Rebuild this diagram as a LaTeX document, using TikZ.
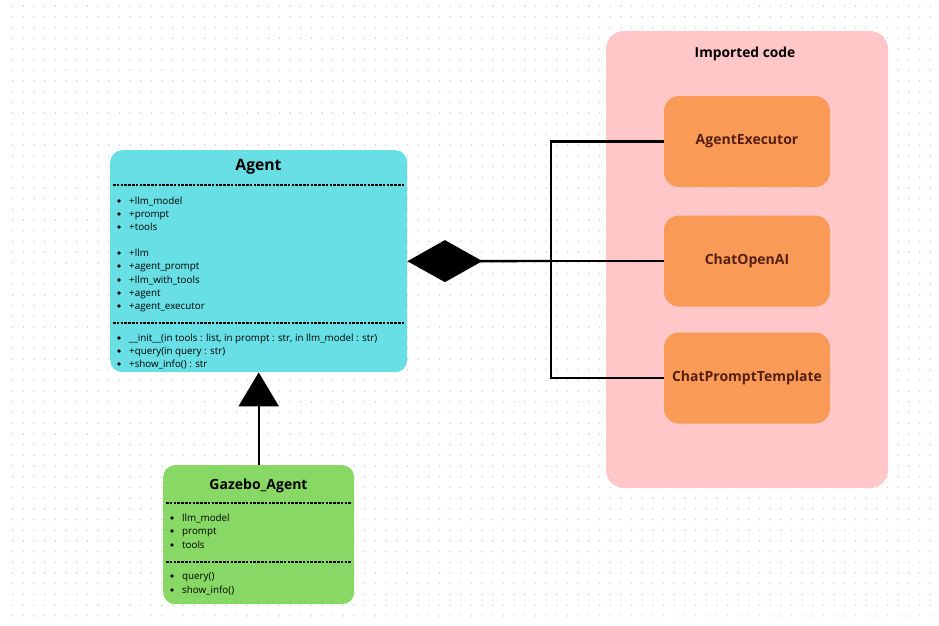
\documentclass[tikz,border=0pt]{standalone}
\usepackage{fontspec}
\setmainfont{Open Sans}
\usetikzlibrary{arrows.meta}
\definecolor{agentcyan}{HTML}{67DFE5}
\definecolor{gazebogreen}{HTML}{88D865}
\definecolor{importpink}{HTML}{FFC0C0}
\definecolor{liborange}{HTML}{F99A57}
\definecolor{libtext}{HTML}{561F14}
\definecolor{griddot}{HTML}{D6D6E4}
\begin{document}
\begin{tikzpicture}[x=1pt, y=-1pt,
    classbox/.style={fill=#1, rounded corners=12pt, inner sep=0pt, anchor=north west},
    libbox/.style={fill=liborange, rounded corners=15pt, minimum width=166pt, minimum height=91pt,
        text=libtext, font=\bfseries\fontsize{14}{16}\selectfont},
    classtitle/.style={font=\bfseries\fontsize{#1}{18}\selectfont},
    item/.style={anchor=west, inner sep=0pt, text height=7pt, text depth=2.4pt, yshift=-1.5pt,
        font=\fontsize{9.8}{11}\selectfont},
    sepline/.style={line width=1.2pt, dash pattern=on 2.6pt off 1.2pt},
    link/.style={line width=2.4pt}]
\useasboundingbox (0,0) rectangle (939,626);
\fill[white] (0,0) rectangle (939,626);
% dot grid
\foreach \i in {0,...,87}
    \foreach \j in {0,...,58}
        \fill[griddot] (12.7+10.67*\i, 6+10.7*\j) circle (0.9);

% Imported code
\fill[importpink, fill opacity=0.88, rounded corners=18pt] (606,31) rectangle (888,488);
\node[classtitle=13.8] (imported) at (745,53.5) {Imported code};
\node[libbox] (executor) at (747,141.5) {AgentExecutor};
\node[libbox] (openai) at (747,261) {ChatOpenAI};
\node[libbox] (template) at (747,378) {ChatPromptTemplate};

% Agent class
\node[classbox=agentcyan, minimum width=297pt, minimum height=222pt] (agent) at (110,150) {};
\node[classtitle=15.7] (agenttitle) at (258.5,167) {Agent};
\draw[sepline] (113,185) -- (404,185);
\foreach \y/\t in {201/+llm\_model, 214/+prompt, 227/+tools, 253/+llm, 266/+agent\_prompt,
        280/+llm\_with\_tools, 293/+agent, 306/+agent\_executor}
    {\fill (119,\y) circle (1.8);
     \node[item] at (129,\y) {\t};}
\draw[sepline] (113,323) -- (404,323);
\foreach \y/\t in {338/{\_\_init\_\_(in tools : list, in prompt : str, in llm\_model : str)},
        351/{+query(in query : str)}, 364/{+show\_info() : str}}
    {\fill (119,\y) circle (1.8);
     \node[item] at (129,\y) {\t};}

% Gazebo_Agent class
\node[classbox=gazebogreen, minimum width=191pt, minimum height=139pt] (gazebo) at (163,465) {};
\node[classtitle=14] (gazebotitle) at (258.5,486) {Gazebo\_Agent};
\draw[sepline] (166,503) -- (351,503);
\foreach \y/\t in {518/llm\_model, 531/prompt, 545/tools}
    {\fill (172,\y) circle (1.8);
     \node[item] at (182,\y) {\t};}
\draw[sepline] (166,562) -- (351,562);
\foreach \y/\t in {576/query(), 590/show\_info()}
    {\fill (172,\y) circle (1.8);
     \node[item] at (182,\y) {\t};}

% inheritance
\draw[link, -{Triangle[width=40pt, length=34pt]}] (gazebo.north) -- (agent.south);
% composition
\coordinate (branch) at (551,261);
\draw[link, {Diamond[width=42pt, length=75pt]}-] (agent.east) -- (branch);
\draw[link] (executor.west) -- (executor.west -| branch) -- (template.west -| branch) -- (template.west);
\draw[link] (openai.west) -- (branch);
\end{tikzpicture}
\end{document}
